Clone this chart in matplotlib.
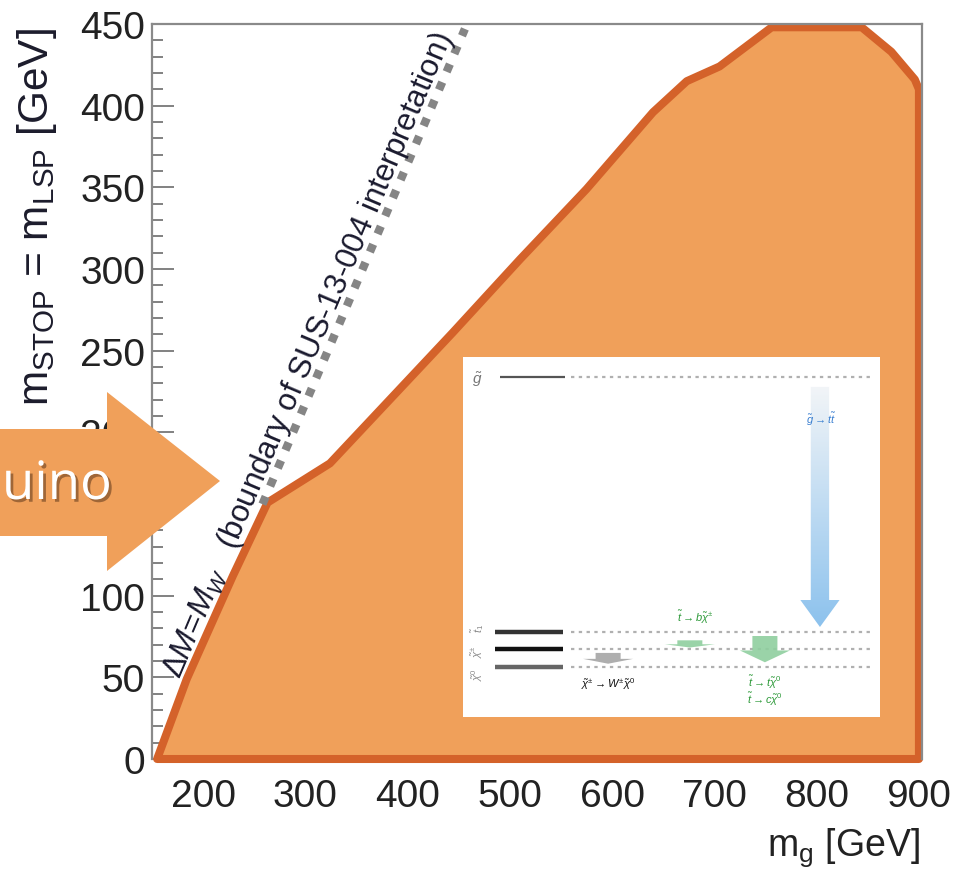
import numpy as np
import matplotlib
matplotlib.use("Agg")
import matplotlib.pyplot as plt
from matplotlib.patches import Polygon
from matplotlib import patheffects as pe

plt.rcParams['font.family'] = ['Liberation Sans', 'DejaVu Sans']
plt.rcParams['mathtext.fontset'] = 'custom'
plt.rcParams['mathtext.rm'] = 'Liberation Sans'
plt.rcParams['mathtext.it'] = 'Liberation Sans:italic'
plt.rcParams['mathtext.bf'] = 'Liberation Sans:bold'

# ---------------- data ----------------
boundary_mg = [155, 184, 229, 263, 324, 444, 510, 575, 640, 673, 705, 756, 844, 873, 896, 900, 900]
boundary_mstop = [0, 49, 112, 157, 181, 261, 306, 349, 396, 415, 424, 448, 448, 433, 416, 410, 0]
sus_line_mg = [258, 456]
sus_line_mstop = [156, 447]
x_ticks = [200, 300, 400, 500, 600, 700, 800, 900]
y_ticks = [0, 50, 100, 150, 200, 250, 300, 350, 400, 450]

level_names = [r'$\tilde{g}$', r'$\tilde{t}_1$', r'$\tilde{\chi}^{\pm}$', r'$\tilde{\chi}^{0}$']
level_pos = [0.944, 0.236, 0.189, 0.139]
decay_labels = [r'$\tilde{g}\rightarrow t\tilde{t}$',
                r'$\tilde{\chi}^{\pm}\rightarrow W^{\pm}\tilde{\chi}^{0}$',
                r'$\tilde{t}\rightarrow b\tilde{\chi}^{\pm}$',
                r'$\tilde{t}\rightarrow t\tilde{\chi}^{0}$',
                r'$\tilde{t}\rightarrow c\tilde{\chi}^{0}$']

FILL = '#F0A05A'
EDGE = '#D4622A'
W, H = 967, 879

fig = plt.figure(figsize=(W / 100, H / 100), dpi=100)
ax = fig.add_axes([152 / W, 1 - 760 / H, 770 / W, 735 / H])
ax.set_xlim(150, 903)
ax.set_ylim(0, 450)

ax.fill(boundary_mg, boundary_mstop, facecolor=FILL, edgecolor=EDGE,
        linewidth=5.8, joinstyle='round', clip_on=False, zorder=2)

ax.plot(sus_line_mg, sus_line_mstop, color='#858585', linewidth=6.0,
        linestyle=(0, (1.0, 1.35)), dash_capstyle='butt', zorder=3)

ax.text(177.5, 49, r'$\Delta M\!=\!M_W$   (boundary of SUS-13-004 interpretation)',
        rotation=67, rotation_mode='anchor', ha='left', va='baseline',
        fontsize=22.5, color='#1a1a2e', zorder=4)

ax.set_xticks(x_ticks)
ax.set_yticks(y_ticks)
ax.set_yticks(np.arange(0, 451, 10), minor=True)
ax.tick_params(axis='x', length=0, pad=14, labelsize=28, labelcolor='#222222')
ax.tick_params(axis='y', which='major', direction='in', length=16, width=1.3,
               color='#777777', pad=5, labelsize=28, labelcolor='#222222')
ax.tick_params(axis='y', which='minor', direction='in', length=8, width=1.3, color='#777777')
for s in ax.spines.values():
    s.set_color('#8a8a8a')
    s.set_linewidth(1.6)
ax.spines['bottom'].set_visible(False)

fig.text(37 / W, 1 - 28 / H, r'$\mathregular{m_{STOP}}$ = $\mathregular{m_{LSP}}$ [GeV]',
         rotation=90, ha='center', va='top', fontsize=30.5, color='#1c1c2c')
fig.text(920 / W, 1 - 848 / H, r'$\mathregular{m_{g}}$ [GeV]',
         ha='right', va='center', fontsize=27, color='#222222')

# ---------------- inset diagram ----------------
ix0, iy0, ix1, iy1 = 463, 358, 880, 718
ins = fig.add_axes([ix0 / W, 1 - iy1 / H, (ix1 - ix0) / W, (iy1 - iy0) / H])
ins.set_xlim(0, 1)
ins.set_ylim(0, 1)
ins.set_xticks([])
ins.set_yticks([])
for s in ins.spines.values():
    s.set_visible(False)
ins.set_facecolor('white')

lvl_colors = ['#555555', '#333333', '#111111', '#666666']
lvl_widths = [1.6, 3.2, 3.2, 3.2]
for i, (name, yp) in enumerate(zip(level_names, level_pos)):
    x0 = 0.089 if i == 0 else 0.077
    ins.plot([x0, 0.245 if i == 0 else 0.240], [yp, yp], color=lvl_colors[i], lw=lvl_widths[i],
             solid_capstyle='butt')
    ins.plot([0.26, 0.976], [yp, yp], color='#b0b0b0', lw=1.6, linestyle=(0, (1.5, 2.0)))
ins.text(0.034, 0.94, level_names[0], ha='center', va='center', fontsize=11, color='#777777')
for name, yp in zip(level_names[1:], [0.25, 0.185, 0.12]):
    ins.text(0.034, yp, name, ha='center', va='center', fontsize=8, color='#888888', rotation=90)

# blue gradient arrow
bx, top, tip, hb = 0.856, 0.917, 0.25, 0.325
sw, hw = 0.022, 0.047
arrow_pts = [(bx - sw, top), (bx + sw, top), (bx + sw, hb), (bx + hw, hb), (bx, tip),
             (bx - hw, hb), (bx - sw, hb)]
arr = Polygon(arrow_pts, closed=True, facecolor='none', edgecolor='none')
ins.add_patch(arr)
grad = np.linspace(0, 1, 256).reshape(-1, 1)
c_top = np.array([0.95, 0.96, 0.97])
c_bot = np.array([0.55, 0.76, 0.93])
img = c_top[None, None, :] * (1 - grad[:, :, None]) + c_bot[None, None, :] * grad[:, :, None]
im = ins.imshow(img, extent=[bx - hw, bx + hw, tip, top], origin='upper', aspect='auto', zorder=2)
im.set_clip_path(arr)
ins.text(0.859, 0.828, decay_labels[0], ha='center', va='center', fontsize=8,
         color='#3a7fd0', fontweight='bold', zorder=3)


def fat_arrow(xc, ytop, ybot, color, alpha=1.0):
    sw_, hw_ = 0.03, 0.06
    hb_ = ybot + (ytop - ybot) * 0.45
    pts = [(xc - sw_, ytop), (xc + sw_, ytop), (xc + sw_, hb_), (xc + hw_, hb_), (xc, ybot),
           (xc - hw_, hb_), (xc - sw_, hb_)]
    ins.add_patch(Polygon(pts, closed=True, facecolor=color, edgecolor='none', alpha=alpha, zorder=3))


fat_arrow(0.348, 0.178, 0.148, '#9a9a9a', 0.8)
fat_arrow(0.544, 0.213, 0.193, '#8fcf9f', 0.9)
fat_arrow(0.724, 0.225, 0.152, '#8fcf9f', 0.9)

ins.text(0.348, 0.094, decay_labels[1], ha='center', va='center', fontsize=8,
         color='#111111', fontweight='bold')
ins.text(0.556, 0.28, decay_labels[2], ha='center', va='center', fontsize=8,
         color='#2e9a3a', fontweight='bold')
ins.text(0.724, 0.100, decay_labels[3], ha='center', va='center', fontsize=8,
         color='#2e9a3a', fontweight='bold')
ins.text(0.724, 0.052, decay_labels[4], ha='center', va='center', fontsize=8,
         color='#2e9a3a', fontweight='bold')

# ---------------- big arrow on the left ----------------
arrow_px = [(0, 430), (107, 430), (107, 393), (220, 482), (107, 572), (107, 537), (0, 537)]
arrow_fig = [(x / W, 1 - y / H) for x, y in arrow_px]
big = Polygon(arrow_fig, closed=True, transform=fig.transFigure, facecolor=FILL,
              edgecolor='none', zorder=10)
fig.patches.append(big)
fig.text(2 / W, 1 - 500 / H, 'uino', ha='left', va='baseline', fontsize=38,
         family=['Open Sans', 'DejaVu Sans'], color='white', zorder=11,
         path_effects=[pe.withSimplePatchShadow(offset=(2, -2), shadow_rgbFace='#6a4020', alpha=0.6)])

fig.savefig('out.png', dpi=100)
